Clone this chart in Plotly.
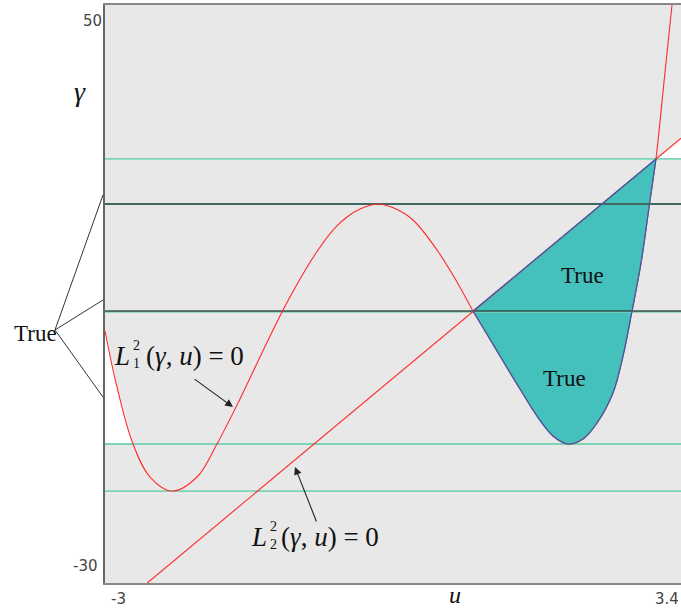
import plotly.graph_objects as go

# Curve L1^2(gamma, u) = 0, sampled points (u, gamma)
u_L1 = [-3.0, -2.867, -2.689, -2.5, -2.256, -1.978, -1.756, -1.5, -1.267, -1.022,
        -0.833, -0.633, -0.444, -0.311, -0.167, 0.033, 0.222, 0.422, 0.689, 0.911,
        1.089, 1.256, 1.422, 1.611, 1.8, 1.978, 2.144, 2.311, 2.467, 2.644,
        2.756, 2.856, 2.956, 3.05, 3.122, 3.211, 3.3]
g_L1 = [4.88, -2.87, -10.76, -15.33, -17.27, -15.33, -10.76, -4.53, 1.56, 7.79,
        12.08, 16.09, 19.14, 20.66, 21.76, 22.46, 21.82, 20.24, 16.09, 11.66,
        7.65, 4.19, 0.73, -3.15, -6.89, -9.65, -10.76, -10.07, -7.85, -3.70,
        1.42, 7.65, 14.29, 22.46, 28.69, 39.34, 50.0]

# Straight line L2^2(gamma, u) = 0
u_L2 = [-2.53, 3.4]
g_L2 = [-30.0, 31.57]

# Points where the two curves meet
cross_u = [1.089, 3.122]
cross_g = [7.65, 28.69]

# Critical levels of gamma
levels = [28.69, 22.46, 7.65, -10.76, -17.27]
level_colors = ["#7dd3b5", "#3f6860", "#111111", "#7dd3b5", "#7dd3b5"]

u_range = [-3.0, 3.4]
g_range = [-30.0, 50.0]
x_ticks = [-3, 3.4]
x_tick_text = ["-3", "3.4"]
y_ticks = [50, -30]
y_tick_text = ["50", "-30"]

RED = "#ff2a2a"
BLUE = "#2f5fb3"
TEAL = "#44c0bd"
GREEN = "#7dd3b5"
serif = "Liberation Serif"

fig = go.Figure()

# white pocket on the left, between the curve and the lower level
left_idx = [i for i, u in enumerate(u_L1) if u <= u_L1[2]]
pocket_u = [u_L1[i] for i in left_idx] + [u_range[0], u_range[0]]
pocket_g = [g_L1[i] for i in left_idx] + [levels[3], g_L1[0]]
fig.add_trace(go.Scatter(x=pocket_u, y=pocket_g, mode="lines",
                         line=dict(width=0.5, color="white"), fill="toself",
                         fillcolor="white", hoverinfo="skip", showlegend=False))

# white wedge on the right, above the top level and below L2
fig.add_trace(go.Scatter(x=[cross_u[1], u_range[1], u_range[1], cross_u[1]],
                         y=[cross_g[1], g_L2[1], cross_g[1], cross_g[1]],
                         mode="lines", line=dict(width=0.5, color="white"), fill="toself",
                         fillcolor="white", hoverinfo="skip", showlegend=False))

# shaded region between the two curves
mid_idx = [i for i, u in enumerate(u_L1) if cross_u[0] <= u <= cross_u[1]]
mid_u = [u_L1[i] for i in mid_idx]
mid_g = [g_L1[i] for i in mid_idx]
fig.add_trace(go.Scatter(x=mid_u, y=mid_g, mode="lines",
                         line=dict(width=0, shape="spline"),
                         hoverinfo="skip", showlegend=False))
fig.add_trace(go.Scatter(x=[cross_u[1], cross_u[0]], y=[cross_g[1], cross_g[0]],
                         mode="lines", line=dict(width=0), fill="tonexty",
                         fillcolor=TEAL, hoverinfo="skip", showlegend=False))

# horizontal levels
for lv, col in zip(levels, level_colors):
    if col == "#111111":
        fig.add_trace(go.Scatter(x=u_range, y=[lv - 0.12, lv - 0.12], mode="lines",
                                 line=dict(color=GREEN, width=2),
                                 hoverinfo="skip", showlegend=False))
        fig.add_trace(go.Scatter(x=u_range, y=[lv, lv], mode="lines",
                                 line=dict(color=col, width=1.1),
                                 hoverinfo="skip", showlegend=False))
    else:
        fig.add_trace(go.Scatter(x=u_range, y=[lv, lv], mode="lines",
                                 line=dict(color=col, width=1.8),
                                 hoverinfo="skip", showlegend=False))

# the two zero curves
fig.add_trace(go.Scatter(x=u_L1, y=g_L1, mode="lines",
                         line=dict(color=RED, width=1.1, shape="spline"),
                         hoverinfo="skip", showlegend=False))
fig.add_trace(go.Scatter(x=u_L2, y=g_L2, mode="lines",
                         line=dict(color=RED, width=1.1),
                         hoverinfo="skip", showlegend=False))

# outline of the shaded region
fig.add_trace(go.Scatter(x=mid_u, y=mid_g, mode="lines",
                         line=dict(color=BLUE, width=1.2, shape="spline"),
                         hoverinfo="skip", showlegend=False))
fig.add_trace(go.Scatter(x=cross_u, y=cross_g, mode="lines",
                         line=dict(color=BLUE, width=1.2),
                         hoverinfo="skip", showlegend=False))

ann = []
tick_font = dict(family="DejaVu Sans", size=15, color="#444")
# tick labels set just inside the axis ends
ann.append(dict(x=x_ticks[0], y=0, xref="x", yref="paper", text=x_tick_text[0],
                xanchor="left", yanchor="top", xshift=4, yshift=-5, showarrow=False,
                font=tick_font))
ann.append(dict(x=x_ticks[1], y=0, xref="x", yref="paper", text=x_tick_text[1],
                xanchor="right", yanchor="top", xshift=0, yshift=-5, showarrow=False,
                font=tick_font))
ann.append(dict(x=0, y=y_ticks[0], xref="paper", yref="y", text=y_tick_text[0],
                xanchor="right", yanchor="top", xshift=-1, yshift=-5, showarrow=False,
                font=tick_font))
ann.append(dict(x=0, y=y_ticks[1], xref="paper", yref="y", text=y_tick_text[1],
                xanchor="right", yanchor="bottom", xshift=-5, yshift=6, showarrow=False,
                font=tick_font))

# axis names
ann.append(dict(x=-0.043, y=0.85, xref="paper", yref="paper", text="<i>γ</i>",
                xanchor="center", yanchor="middle",
                showarrow=False, font=dict(family=serif, size=28, color="#111")))
ann.append(dict(x=0.608, y=-0.021, xref="paper", yref="paper", text="<i>u</i>",
                xanchor="center", yanchor="middle",
                showarrow=False, font=dict(family=serif, size=24, color="#111")))

# region labels
for ux, gy in [(2.3, 12.63), (2.1, -1.63)]:
    ann.append(dict(x=ux, y=gy, text="True", showarrow=False,
                    font=dict(family=serif, size=23, color="#111")))
ann.append(dict(x=-0.1215, y=4.6, xref="paper", yref="y", text="True", showarrow=False,
                xanchor="center", yanchor="middle",
                font=dict(family=serif, size=23, color="#111")))


# curve labels: L with stacked super/subscript
def curve_label(x_split, y_mid, sub, x_rest):
    f = dict(family=serif, size=27, color="#111")
    fs = dict(family=serif, size=14, color="#111")
    return [
        dict(x=x_split, y=y_mid, text="<i>L</i>", xanchor="right", yanchor="middle",
             showarrow=False, font=f),
        dict(x=x_split, y=y_mid, text="2<br>" + sub, xanchor="left", yanchor="middle",
             yshift=1, xshift=-1, showarrow=False, font=fs),
        dict(x=x_rest, y=y_mid, text="(<i>γ</i>, <i>u</i>) = 0", xanchor="left",
             yanchor="middle", showarrow=False, font=f),
    ]


ann += curve_label(-2.7, 1.42, "1", -2.566)
ann += curve_label(-1.178, -23.63, "2", -1.066)

# pointers to the curves
ann.append(dict(x=-1.578, y=-5.64, ax=-2.022, ay=-1.63, axref="x", ayref="y",
                text="", showarrow=True, arrowhead=2, arrowsize=1.4, arrowwidth=1.1,
                arrowcolor="#222"))
ann.append(dict(x=-0.889, y=-13.94, ax=-0.644, ay=-21.7, axref="x", ayref="y",
                text="", showarrow=True, arrowhead=2, arrowsize=1.4, arrowwidth=1.1,
                arrowcolor="#222"))

# connector lines from the left label
shapes = []
for gy in [23.7, 9.17, -4.26]:
    shapes.append(dict(type="line", xref="paper", yref="y", x0=-0.0868, y0=5.02,
                       x1=-0.0035, y1=gy, line=dict(color="#333", width=1)))

fig.update_layout(
    width=681, height=613,
    margin=dict(l=105, r=0, t=5, b=30),
    plot_bgcolor="#e8e8e8", paper_bgcolor="white",
    annotations=ann, shapes=shapes,
    xaxis=dict(range=u_range, showgrid=False, zeroline=False, showticklabels=False,
               ticks="", showline=True, linecolor="#888", linewidth=2, mirror=True),
    yaxis=dict(range=g_range, showgrid=False, zeroline=False, showticklabels=False,
               ticks="", showline=True, linecolor="#666", linewidth=1.5),
)

fig.write_html("out.html")
